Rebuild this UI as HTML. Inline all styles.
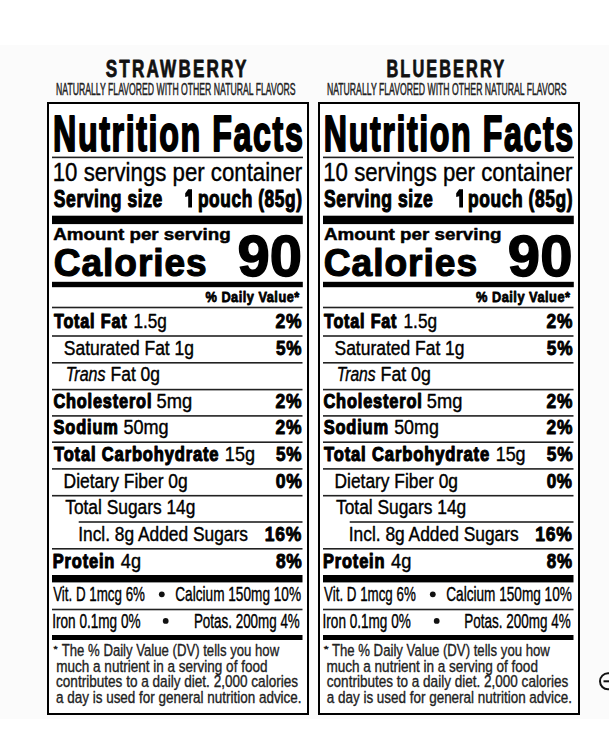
<!DOCTYPE html>
<html><head><meta charset="utf-8"><style>
html,body{margin:0;padding:0;background:#fff;width:609px;height:749px;overflow:hidden}
svg{display:block;font-family:"Liberation Sans",sans-serif}
</style></head><body>
<svg width="609" height="749" viewBox="0 0 609 749">
<rect x="0" y="45" width="609" height="674" fill="#fbfbfb"/>
<g class="r" transform="translate(0 0)">
<rect x="48" y="103" width="260" height="611" fill="#fff" stroke="#000" stroke-width="2"/>
<rect x="52" y="156.6" width="251" height="1.60" fill="#222"/>
<rect x="52" y="215.7" width="250.8" height="8.40" fill="#000"/>
<rect x="52" y="281.8" width="250.8" height="5.40" fill="#000"/>
<rect x="52" y="306.7" width="250.5" height="1.60" fill="#222"/>
<rect x="52" y="335.2" width="250.5" height="1.60" fill="#222"/>
<rect x="52" y="362.0" width="250.5" height="1.60" fill="#222"/>
<rect x="52" y="388.8" width="250.5" height="1.60" fill="#222"/>
<rect x="52" y="415.09999999999997" width="250.5" height="1.60" fill="#222"/>
<rect x="52" y="441.4" width="250.5" height="1.60" fill="#222"/>
<rect x="52" y="468.09999999999997" width="250.5" height="1.60" fill="#222"/>
<rect x="52" y="494.9" width="250.5" height="1.60" fill="#222"/>
<rect x="52" y="548.0" width="250.5" height="1.60" fill="#222"/>
<rect x="78.7" y="521.2" width="223.8" height="1.60" fill="#222"/>
<rect x="52" y="575.0" width="250.5" height="7.40" fill="#000"/>
<rect x="52" y="608.7" width="250.5" height="1.60" fill="#222"/>
<rect x="52" y="635.0" width="250.5" height="5.00" fill="#000"/>
<path d="M188.2 189.2 L192.0 189.2 L192.0 207.6 L188.2 207.6 L188.2 196.2 L185.2 197.0 L185.2 193.2 Z" fill="#000"/>
<circle cx="161.8" cy="594.3" r="2.9" fill="#111"/>
<circle cx="165.7" cy="620.9" r="2.9" fill="#111"/>
</g>
<g class="r" transform="translate(271 0)">
<rect x="48" y="103" width="260" height="611" fill="#fff" stroke="#000" stroke-width="2"/>
<rect x="52" y="156.6" width="251" height="1.60" fill="#222"/>
<rect x="52" y="215.7" width="250.8" height="8.40" fill="#000"/>
<rect x="52" y="281.8" width="250.8" height="5.40" fill="#000"/>
<rect x="52" y="306.7" width="250.5" height="1.60" fill="#222"/>
<rect x="52" y="335.2" width="250.5" height="1.60" fill="#222"/>
<rect x="52" y="362.0" width="250.5" height="1.60" fill="#222"/>
<rect x="52" y="388.8" width="250.5" height="1.60" fill="#222"/>
<rect x="52" y="415.09999999999997" width="250.5" height="1.60" fill="#222"/>
<rect x="52" y="441.4" width="250.5" height="1.60" fill="#222"/>
<rect x="52" y="468.09999999999997" width="250.5" height="1.60" fill="#222"/>
<rect x="52" y="494.9" width="250.5" height="1.60" fill="#222"/>
<rect x="52" y="548.0" width="250.5" height="1.60" fill="#222"/>
<rect x="78.7" y="521.2" width="223.8" height="1.60" fill="#222"/>
<rect x="52" y="575.0" width="250.5" height="7.40" fill="#000"/>
<rect x="52" y="608.7" width="250.5" height="1.60" fill="#222"/>
<rect x="52" y="635.0" width="250.5" height="5.00" fill="#000"/>
<path d="M188.2 189.2 L192.0 189.2 L192.0 207.6 L188.2 207.6 L188.2 196.2 L185.2 197.0 L185.2 193.2 Z" fill="#000"/>
<circle cx="161.8" cy="594.3" r="2.9" fill="#111"/>
<circle cx="165.7" cy="620.9" r="2.9" fill="#111"/>
</g>
<text id="t0" x="105.79" y="77" font-size="23.55" font-weight="bold" fill="#111" textLength="142.67" lengthAdjust="spacingAndGlyphs" stroke="#111" stroke-width="0.8" stroke-linejoin="round" letter-spacing="3">STRAWBERRY</text>
<text id="t1" x="56.02" y="95" font-size="17.15" font-weight="normal" fill="#222" textLength="239.46" lengthAdjust="spacingAndGlyphs" stroke="#222" stroke-width="0.5" stroke-linejoin="round">NATURALLY FLAVORED WITH OTHER NATURAL FLAVORS</text>
<text id="t2" x="53.11" y="151" font-size="50.87" font-weight="bold" fill="#000" textLength="251.32" lengthAdjust="spacingAndGlyphs" stroke="#000" stroke-width="2.0" stroke-linejoin="round" letter-spacing="2.5">Nutrition Facts</text>
<text id="t3" x="52.76" y="181" font-size="25.29" font-weight="normal" fill="#000" textLength="249.48" lengthAdjust="spacingAndGlyphs" stroke="#000" stroke-width="0.4" stroke-linejoin="round">10 servings per container</text>
<text id="t4" x="53.87" y="207" font-size="23.55" font-weight="bold" fill="#000" textLength="108.91" lengthAdjust="spacingAndGlyphs" stroke="#000" stroke-width="1.1" stroke-linejoin="round" letter-spacing="0.8">Serving size</text>
<text id="t5" x="197.95" y="207" font-size="23.55" font-weight="bold" fill="#000" textLength="104.59" lengthAdjust="spacingAndGlyphs" stroke="#000" stroke-width="1.1" stroke-linejoin="round" letter-spacing="0.8">pouch (85g)</text>
<text id="t6" x="53.30" y="240" font-size="17.15" font-weight="bold" fill="#000" textLength="177.39" lengthAdjust="spacingAndGlyphs" stroke="#000" stroke-width="0.5" stroke-linejoin="round">Amount per serving</text>
<text id="t7" x="53.76" y="276" font-size="38.66" font-weight="bold" fill="#000" textLength="153.91" lengthAdjust="spacingAndGlyphs" stroke="#000" stroke-width="1.2" stroke-linejoin="round" letter-spacing="1">Calories</text>
<text id="t8" x="237.41" y="276" font-size="56.98" font-weight="bold" fill="#000" textLength="64.54" lengthAdjust="spacingAndGlyphs" stroke="#000" stroke-width="1.4" stroke-linejoin="round">90</text>
<text id="t9" x="205.52" y="302" font-size="15.26" font-weight="bold" fill="#000" textLength="94.25" lengthAdjust="spacingAndGlyphs" stroke="#000" stroke-width="0.8" stroke-linejoin="round" letter-spacing="0.6">% Daily Value*</text>
<text id="t10" x="53.96" y="328" font-size="19.48" font-weight="bold" fill="#000" textLength="73.45" lengthAdjust="spacingAndGlyphs" stroke="#000" stroke-width="1.1" stroke-linejoin="round" letter-spacing="1">Total Fat</text>
<text id="t11" x="133.42" y="328" font-size="19.77" font-weight="normal" fill="#000" textLength="33.44" lengthAdjust="spacingAndGlyphs" stroke="#000" stroke-width="0.4" stroke-linejoin="round">1.5g</text>
<text id="t12" x="275.52" y="328" font-size="19.62" font-weight="bold" fill="#000" textLength="26.71" lengthAdjust="spacingAndGlyphs" stroke="#000" stroke-width="0.9" stroke-linejoin="round" letter-spacing="0.8">2%</text>
<text id="t13" x="63.87" y="355" font-size="19.77" font-weight="normal" fill="#000" textLength="130.15" lengthAdjust="spacingAndGlyphs" stroke="#000" stroke-width="0.4" stroke-linejoin="round">Saturated Fat 1g</text>
<text id="t14" x="276.01" y="355" font-size="19.62" font-weight="bold" fill="#000" textLength="26.21" lengthAdjust="spacingAndGlyphs" stroke="#000" stroke-width="0.9" stroke-linejoin="round" letter-spacing="0.8">5%</text>
<text id="t15" x="65.74" y="381" font-size="19.77" font-weight="normal" font-style="italic" fill="#000" textLength="39.81" lengthAdjust="spacingAndGlyphs" stroke="#000" stroke-width="0.4" stroke-linejoin="round">Trans</text>
<text id="t16" x="110.55" y="381" font-size="19.77" font-weight="normal" fill="#000" textLength="49.50" lengthAdjust="spacingAndGlyphs" stroke="#000" stroke-width="0.4" stroke-linejoin="round">Fat 0g</text>
<text id="t17" x="53.39" y="408" font-size="19.48" font-weight="bold" fill="#000" textLength="98.89" lengthAdjust="spacingAndGlyphs" stroke="#000" stroke-width="1.1" stroke-linejoin="round" letter-spacing="1">Cholesterol</text>
<text id="t18" x="156.55" y="408" font-size="19.77" font-weight="normal" fill="#000" textLength="35.64" lengthAdjust="spacingAndGlyphs" stroke="#000" stroke-width="0.4" stroke-linejoin="round">5mg</text>
<text id="t19" x="275.52" y="408" font-size="19.62" font-weight="bold" fill="#000" textLength="26.71" lengthAdjust="spacingAndGlyphs" stroke="#000" stroke-width="0.9" stroke-linejoin="round" letter-spacing="0.8">2%</text>
<text id="t20" x="53.60" y="434" font-size="19.48" font-weight="bold" fill="#000" textLength="65.04" lengthAdjust="spacingAndGlyphs" stroke="#000" stroke-width="1.1" stroke-linejoin="round" letter-spacing="1">Sodium</text>
<text id="t21" x="123.39" y="434" font-size="19.77" font-weight="normal" fill="#000" textLength="45.26" lengthAdjust="spacingAndGlyphs" stroke="#000" stroke-width="0.4" stroke-linejoin="round">50mg</text>
<text id="t22" x="275.52" y="434" font-size="19.62" font-weight="bold" fill="#000" textLength="26.71" lengthAdjust="spacingAndGlyphs" stroke="#000" stroke-width="0.9" stroke-linejoin="round" letter-spacing="0.8">2%</text>
<text id="t23" x="53.97" y="461" font-size="19.48" font-weight="bold" fill="#000" textLength="165.35" lengthAdjust="spacingAndGlyphs" stroke="#000" stroke-width="1.1" stroke-linejoin="round" letter-spacing="1">Total Carbohydrate</text>
<text id="t24" x="224.85" y="461" font-size="19.77" font-weight="normal" fill="#000" textLength="30.16" lengthAdjust="spacingAndGlyphs" stroke="#000" stroke-width="0.4" stroke-linejoin="round">15g</text>
<text id="t25" x="276.01" y="461" font-size="19.62" font-weight="bold" fill="#000" textLength="26.21" lengthAdjust="spacingAndGlyphs" stroke="#000" stroke-width="0.9" stroke-linejoin="round" letter-spacing="0.8">5%</text>
<text id="t26" x="63.59" y="488" font-size="19.77" font-weight="normal" fill="#000" textLength="124.18" lengthAdjust="spacingAndGlyphs" stroke="#000" stroke-width="0.4" stroke-linejoin="round">Dietary Fiber 0g</text>
<text id="t27" x="275.84" y="488" font-size="19.62" font-weight="bold" fill="#000" textLength="26.93" lengthAdjust="spacingAndGlyphs" stroke="#000" stroke-width="0.9" stroke-linejoin="round" letter-spacing="0.8">0%</text>
<text id="t28" x="65.25" y="514" font-size="19.77" font-weight="normal" fill="#000" textLength="130.08" lengthAdjust="spacingAndGlyphs" stroke="#000" stroke-width="0.4" stroke-linejoin="round">Total Sugars 14g</text>
<text id="t29" x="78.18" y="541" font-size="19.77" font-weight="normal" fill="#000" textLength="169.74" lengthAdjust="spacingAndGlyphs" stroke="#000" stroke-width="0.4" stroke-linejoin="round">Incl. 8g Added Sugars</text>
<text id="t30" x="264.84" y="541" font-size="19.62" font-weight="bold" fill="#000" textLength="37.08" lengthAdjust="spacingAndGlyphs" stroke="#000" stroke-width="0.9" stroke-linejoin="round" letter-spacing="0.8">16%</text>
<text id="t31" x="52.85" y="568" font-size="19.48" font-weight="bold" fill="#000" textLength="62.35" lengthAdjust="spacingAndGlyphs" stroke="#000" stroke-width="1.1" stroke-linejoin="round" letter-spacing="1">Protein</text>
<text id="t32" x="120.83" y="568" font-size="19.77" font-weight="normal" fill="#000" textLength="20.19" lengthAdjust="spacingAndGlyphs" stroke="#000" stroke-width="0.4" stroke-linejoin="round">4g</text>
<text id="t33" x="275.94" y="568" font-size="19.62" font-weight="bold" fill="#000" textLength="26.60" lengthAdjust="spacingAndGlyphs" stroke="#000" stroke-width="0.9" stroke-linejoin="round" letter-spacing="0.8">8%</text>
<text id="t34" x="53.20" y="601" font-size="20.20" font-weight="normal" fill="#000" textLength="91.78" lengthAdjust="spacingAndGlyphs" stroke="#000" stroke-width="0.4" stroke-linejoin="round">Vit. D 1mcg 6%</text>
<text id="t35" x="175.27" y="601" font-size="20.20" font-weight="normal" fill="#000" textLength="125.78" lengthAdjust="spacingAndGlyphs" stroke="#000" stroke-width="0.4" stroke-linejoin="round">Calcium 150mg 10%</text>
<text id="t36" x="52.21" y="628" font-size="20.20" font-weight="normal" fill="#000" textLength="88.38" lengthAdjust="spacingAndGlyphs" stroke="#000" stroke-width="0.4" stroke-linejoin="round">Iron 0.1mg 0%</text>
<text id="t37" x="193.93" y="628" font-size="20.20" font-weight="normal" fill="#000" textLength="105.88" lengthAdjust="spacingAndGlyphs" stroke="#000" stroke-width="0.4" stroke-linejoin="round">Potas. 200mg 4%</text>
<text id="t38" x="53.63" y="652" font-size="9.59" font-weight="normal" fill="#111" textLength="4.16" lengthAdjust="spacingAndGlyphs" stroke="#111" stroke-width="0.4" stroke-linejoin="round">*</text>
<text id="t39" x="61.75" y="656" font-size="15.92" font-weight="normal" fill="#222" textLength="217.43" lengthAdjust="spacingAndGlyphs" stroke="#222" stroke-width="0.35" stroke-linejoin="round">The % Daily Value (DV) tells you how</text>
<text id="t40" x="56.28" y="672" font-size="15.92" font-weight="normal" fill="#222" textLength="211.21" lengthAdjust="spacingAndGlyphs" stroke="#222" stroke-width="0.35" stroke-linejoin="round">much a nutrient in a serving of food</text>
<text id="t41" x="56.05" y="687" font-size="15.92" font-weight="normal" fill="#222" textLength="242.03" lengthAdjust="spacingAndGlyphs" stroke="#222" stroke-width="0.35" stroke-linejoin="round">contributes to a daily diet. 2,000 calories</text>
<text id="t42" x="55.99" y="703" font-size="15.92" font-weight="normal" fill="#222" textLength="245.60" lengthAdjust="spacingAndGlyphs" stroke="#222" stroke-width="0.35" stroke-linejoin="round">a day is used for general nutrition advice.</text>
<text id="t43" x="386.49" y="77" font-size="23.55" font-weight="bold" fill="#111" textLength="119.69" lengthAdjust="spacingAndGlyphs" stroke="#111" stroke-width="0.8" stroke-linejoin="round" letter-spacing="3">BLUEBERRY</text>
<text id="t44" x="326.90" y="95" font-size="17.15" font-weight="normal" fill="#222" textLength="239.68" lengthAdjust="spacingAndGlyphs" stroke="#222" stroke-width="0.5" stroke-linejoin="round">NATURALLY FLAVORED WITH OTHER NATURAL FLAVORS</text>
<text id="t45" x="323.87" y="151" font-size="50.87" font-weight="bold" fill="#000" textLength="251.01" lengthAdjust="spacingAndGlyphs" stroke="#000" stroke-width="2.0" stroke-linejoin="round" letter-spacing="2.5">Nutrition Facts</text>
<text id="t46" x="323.29" y="181" font-size="25.29" font-weight="normal" fill="#000" textLength="249.17" lengthAdjust="spacingAndGlyphs" stroke="#000" stroke-width="0.4" stroke-linejoin="round">10 servings per container</text>
<text id="t47" x="324.08" y="207" font-size="23.55" font-weight="bold" fill="#000" textLength="109.33" lengthAdjust="spacingAndGlyphs" stroke="#000" stroke-width="1.1" stroke-linejoin="round" letter-spacing="0.8">Serving size</text>
<text id="t48" x="468.05" y="207" font-size="23.55" font-weight="bold" fill="#000" textLength="105.00" lengthAdjust="spacingAndGlyphs" stroke="#000" stroke-width="1.1" stroke-linejoin="round" letter-spacing="0.8">pouch (85g)</text>
<text id="t49" x="323.92" y="240" font-size="17.15" font-weight="bold" fill="#000" textLength="177.48" lengthAdjust="spacingAndGlyphs" stroke="#000" stroke-width="0.5" stroke-linejoin="round">Amount per serving</text>
<text id="t50" x="323.75" y="276" font-size="38.66" font-weight="bold" fill="#000" textLength="154.27" lengthAdjust="spacingAndGlyphs" stroke="#000" stroke-width="1.2" stroke-linejoin="round" letter-spacing="1">Calories</text>
<text id="t51" x="507.89" y="276" font-size="56.98" font-weight="bold" fill="#000" textLength="64.58" lengthAdjust="spacingAndGlyphs" stroke="#000" stroke-width="1.4" stroke-linejoin="round">90</text>
<text id="t52" x="476.00" y="302" font-size="15.26" font-weight="bold" fill="#000" textLength="94.49" lengthAdjust="spacingAndGlyphs" stroke="#000" stroke-width="0.8" stroke-linejoin="round" letter-spacing="0.6">% Daily Value*</text>
<text id="t53" x="323.96" y="328" font-size="19.48" font-weight="bold" fill="#000" textLength="73.32" lengthAdjust="spacingAndGlyphs" stroke="#000" stroke-width="1.1" stroke-linejoin="round" letter-spacing="1">Total Fat</text>
<text id="t54" x="403.52" y="328" font-size="19.77" font-weight="normal" fill="#000" textLength="33.54" lengthAdjust="spacingAndGlyphs" stroke="#000" stroke-width="0.4" stroke-linejoin="round">1.5g</text>
<text id="t55" x="546.55" y="328" font-size="19.62" font-weight="bold" fill="#000" textLength="26.49" lengthAdjust="spacingAndGlyphs" stroke="#000" stroke-width="0.9" stroke-linejoin="round" letter-spacing="0.8">2%</text>
<text id="t56" x="334.52" y="355" font-size="19.77" font-weight="normal" fill="#000" textLength="130.03" lengthAdjust="spacingAndGlyphs" stroke="#000" stroke-width="0.4" stroke-linejoin="round">Saturated Fat 1g</text>
<text id="t57" x="546.85" y="355" font-size="19.62" font-weight="bold" fill="#000" textLength="26.40" lengthAdjust="spacingAndGlyphs" stroke="#000" stroke-width="0.9" stroke-linejoin="round" letter-spacing="0.8">5%</text>
<text id="t58" x="336.77" y="381" font-size="19.77" font-weight="normal" font-style="italic" fill="#000" textLength="38.86" lengthAdjust="spacingAndGlyphs" stroke="#000" stroke-width="0.4" stroke-linejoin="round">Trans</text>
<text id="t59" x="380.56" y="381" font-size="19.77" font-weight="normal" fill="#000" textLength="50.29" lengthAdjust="spacingAndGlyphs" stroke="#000" stroke-width="0.4" stroke-linejoin="round">Fat 0g</text>
<text id="t60" x="323.47" y="408" font-size="19.48" font-weight="bold" fill="#000" textLength="99.20" lengthAdjust="spacingAndGlyphs" stroke="#000" stroke-width="1.1" stroke-linejoin="round" letter-spacing="1">Cholesterol</text>
<text id="t61" x="426.83" y="408" font-size="19.77" font-weight="normal" fill="#000" textLength="35.55" lengthAdjust="spacingAndGlyphs" stroke="#000" stroke-width="0.4" stroke-linejoin="round">5mg</text>
<text id="t62" x="546.55" y="408" font-size="19.62" font-weight="bold" fill="#000" textLength="26.49" lengthAdjust="spacingAndGlyphs" stroke="#000" stroke-width="0.9" stroke-linejoin="round" letter-spacing="0.8">2%</text>
<text id="t63" x="323.65" y="434" font-size="19.48" font-weight="bold" fill="#000" textLength="65.25" lengthAdjust="spacingAndGlyphs" stroke="#000" stroke-width="1.1" stroke-linejoin="round" letter-spacing="1">Sodium</text>
<text id="t64" x="394.15" y="434" font-size="19.77" font-weight="normal" fill="#000" textLength="44.69" lengthAdjust="spacingAndGlyphs" stroke="#000" stroke-width="0.4" stroke-linejoin="round">50mg</text>
<text id="t65" x="546.55" y="434" font-size="19.62" font-weight="bold" fill="#000" textLength="26.49" lengthAdjust="spacingAndGlyphs" stroke="#000" stroke-width="0.9" stroke-linejoin="round" letter-spacing="0.8">2%</text>
<text id="t66" x="323.96" y="461" font-size="19.48" font-weight="bold" fill="#000" textLength="166.02" lengthAdjust="spacingAndGlyphs" stroke="#000" stroke-width="1.1" stroke-linejoin="round" letter-spacing="1">Total Carbohydrate</text>
<text id="t67" x="495.67" y="461" font-size="19.77" font-weight="normal" fill="#000" textLength="29.94" lengthAdjust="spacingAndGlyphs" stroke="#000" stroke-width="0.4" stroke-linejoin="round">15g</text>
<text id="t68" x="546.85" y="461" font-size="19.62" font-weight="bold" fill="#000" textLength="26.40" lengthAdjust="spacingAndGlyphs" stroke="#000" stroke-width="0.9" stroke-linejoin="round" letter-spacing="0.8">5%</text>
<text id="t69" x="334.56" y="488" font-size="19.77" font-weight="normal" fill="#000" textLength="123.43" lengthAdjust="spacingAndGlyphs" stroke="#000" stroke-width="0.4" stroke-linejoin="round">Dietary Fiber 0g</text>
<text id="t70" x="546.66" y="488" font-size="19.62" font-weight="bold" fill="#000" textLength="26.05" lengthAdjust="spacingAndGlyphs" stroke="#000" stroke-width="0.9" stroke-linejoin="round" letter-spacing="0.8">0%</text>
<text id="t71" x="335.98" y="514" font-size="19.77" font-weight="normal" fill="#000" textLength="130.28" lengthAdjust="spacingAndGlyphs" stroke="#000" stroke-width="0.4" stroke-linejoin="round">Total Sugars 14g</text>
<text id="t72" x="348.79" y="541" font-size="19.77" font-weight="normal" fill="#000" textLength="169.87" lengthAdjust="spacingAndGlyphs" stroke="#000" stroke-width="0.4" stroke-linejoin="round">Incl. 8g Added Sugars</text>
<text id="t73" x="535.28" y="541" font-size="19.62" font-weight="bold" fill="#000" textLength="37.27" lengthAdjust="spacingAndGlyphs" stroke="#000" stroke-width="0.9" stroke-linejoin="round" letter-spacing="0.8">16%</text>
<text id="t74" x="323.09" y="568" font-size="19.48" font-weight="bold" fill="#000" textLength="62.22" lengthAdjust="spacingAndGlyphs" stroke="#000" stroke-width="1.1" stroke-linejoin="round" letter-spacing="1">Protein</text>
<text id="t75" x="391.00" y="568" font-size="19.77" font-weight="normal" fill="#000" textLength="20.35" lengthAdjust="spacingAndGlyphs" stroke="#000" stroke-width="0.4" stroke-linejoin="round">4g</text>
<text id="t76" x="546.79" y="568" font-size="19.62" font-weight="bold" fill="#000" textLength="25.94" lengthAdjust="spacingAndGlyphs" stroke="#000" stroke-width="0.9" stroke-linejoin="round" letter-spacing="0.8">8%</text>
<text id="t77" x="324.09" y="601" font-size="20.20" font-weight="normal" fill="#000" textLength="91.68" lengthAdjust="spacingAndGlyphs" stroke="#000" stroke-width="0.4" stroke-linejoin="round">Vit. D 1mcg 6%</text>
<text id="t78" x="446.27" y="601" font-size="20.20" font-weight="normal" fill="#000" textLength="125.57" lengthAdjust="spacingAndGlyphs" stroke="#000" stroke-width="0.4" stroke-linejoin="round">Calcium 150mg 10%</text>
<text id="t79" x="322.56" y="628" font-size="20.20" font-weight="normal" fill="#000" textLength="88.21" lengthAdjust="spacingAndGlyphs" stroke="#000" stroke-width="0.4" stroke-linejoin="round">Iron 0.1mg 0%</text>
<text id="t80" x="464.34" y="628" font-size="20.20" font-weight="normal" fill="#000" textLength="106.30" lengthAdjust="spacingAndGlyphs" stroke="#000" stroke-width="0.4" stroke-linejoin="round">Potas. 200mg 4%</text>
<text id="t81" x="323.79" y="652" font-size="9.59" font-weight="normal" fill="#111" textLength="4.87" lengthAdjust="spacingAndGlyphs" stroke="#111" stroke-width="0.4" stroke-linejoin="round">*</text>
<text id="t82" x="331.89" y="656" font-size="15.92" font-weight="normal" fill="#222" textLength="218.01" lengthAdjust="spacingAndGlyphs" stroke="#222" stroke-width="0.35" stroke-linejoin="round">The % Daily Value (DV) tells you how</text>
<text id="t83" x="326.42" y="672" font-size="15.92" font-weight="normal" fill="#222" textLength="211.52" lengthAdjust="spacingAndGlyphs" stroke="#222" stroke-width="0.35" stroke-linejoin="round">much a nutrient in a serving of food</text>
<text id="t84" x="326.82" y="687" font-size="15.92" font-weight="normal" fill="#222" textLength="241.43" lengthAdjust="spacingAndGlyphs" stroke="#222" stroke-width="0.35" stroke-linejoin="round">contributes to a daily diet. 2,000 calories</text>
<text id="t85" x="326.77" y="703" font-size="15.92" font-weight="normal" fill="#222" textLength="245.20" lengthAdjust="spacingAndGlyphs" stroke="#222" stroke-width="0.35" stroke-linejoin="round">a day is used for general nutrition advice.</text>
<circle cx="608" cy="681.3" r="8" fill="none" stroke="#111" stroke-width="2"/>
<rect x="603.5" y="680.3" width="9" height="2" fill="#111"/>
</svg>
</body></html>
